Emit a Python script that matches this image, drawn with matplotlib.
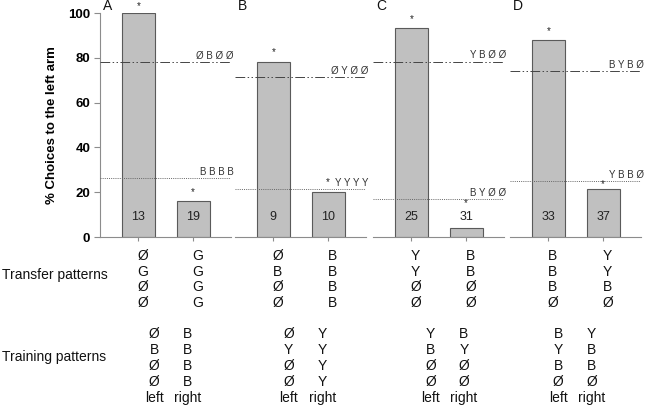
import matplotlib
matplotlib.use("Agg")
import matplotlib.pyplot as plt

plt.rcParams['font.family'] = ['Liberation Sans', 'DejaVu Sans']

# values
panels = ['A', 'B', 'C', 'D']
left_pct = [100, 78, 93.5, 88]
right_pct = [16, 20, 4, 21.5]
left_n = [13, 9, 25, 33]
right_n = [19, 10, 31, 37]
left_star_y = [103, 82.5, 97.5, 92]
right_star_y = [20, 24.5, 15, 23.5]
dashdot_level = [78, 71.3, 78.3, 74]
dotted_level = [26.3, 21.3, 16.8, 25]
transfer_left = ['ØGØØ', 'ØBØØ', 'YYØØ', 'BBBØ']
transfer_right = ['GGGG', 'BBBB', 'BBØØ', 'YYBØ']
training_left = ['ØBØØ', 'ØYØØ', 'YBØØ', 'BYBØ']
training_right = ['BBBB', 'YYYY', 'BYØØ', 'YBBØ']

W, H = 645, 407
ax_left_px = [100, 235, 373, 510]
ax_w_px = 131
ax_top_px, ax_bot_px = 13, 237
train_off = [0.29, 0.28, 0.35, 0.18]

bar_fill = '#c0c0c0'
bar_edge = '#5a5a5a'
spine_col = '#8c8c8c'
txt = '#111111'

fig = plt.figure(figsize=(W / 100, H / 100), dpi=100)

for i, name in enumerate(panels):
    ax = fig.add_axes([ax_left_px[i] / W, 1 - ax_bot_px / H,
                       ax_w_px / W, (ax_bot_px - ax_top_px) / H])
    ax.bar([0, 1], [left_pct[i], right_pct[i]], width=0.6,
           color=bar_fill, edgecolor=bar_edge, linewidth=0.8, zorder=2)
    ax.set_xlim(-0.7, 1.69)
    ax.set_ylim(0, 100)

    # reference lines for the training patterns
    ax.axhline(dashdot_level[i], color='#444444', lw=0.7,
               ls=(0, (10, 2.5, 1.5, 2.5, 1.5, 2.5)), zorder=3)
    ax.axhline(dotted_level[i], color='#666666', lw=0.7,
               ls=(0, (1, 1.2)), zorder=3)
    ax.text(1.02, dashdot_level[i] + 0.6, ' '.join(training_left[i]),
            transform=ax.get_yaxis_transform(), ha='right', va='bottom',
            fontsize=7, color='#333333', clip_on=False)
    ax.text(1.02, dotted_level[i] + 0.6, ' '.join(training_right[i]),
            transform=ax.get_yaxis_transform(), ha='right', va='bottom',
            fontsize=7, color='#333333', clip_on=False)

    # counts and significance stars
    for x, n in zip([0, 1], [left_n[i], right_n[i]]):
        ax.text(x, 9, str(n), ha='center', va='center', fontsize=9,
                color='#222222', zorder=4)
    for x, sy in zip([0, 1], [left_star_y[i], right_star_y[i]]):
        ax.text(x, sy, '*', ha='center', va='center', fontsize=7,
                color='#222222', clip_on=False)

    ax.text(0.06, 1.0, name, transform=ax.transAxes, ha='center',
            va='bottom', fontsize=10, color=txt)

    for s in ['top', 'right']:
        ax.spines[s].set_visible(False)
    ax.spines['bottom'].set_color(spine_col)
    ax.set_xticks([0, 1])
    ax.set_xticklabels(['', ''])
    ax.tick_params(axis='x', length=3, color=spine_col)
    if i == 0:
        ax.spines['left'].set_color(spine_col)
        ax.set_yticks(range(0, 101, 20))
        ax.tick_params(axis='y', length=4, color=spine_col, pad=3,
                       labelsize=9.5)
        for lab in ax.get_yticklabels():
            lab.set_fontweight('bold')
        ax.set_ylabel('% Choices to the left arm', fontsize=9.5,
                      fontweight='bold', labelpad=7)
    else:
        ax.spines['left'].set_visible(False)
        ax.set_yticks([])

    # transfer patterns (under each bar)
    for r in range(4):
        y = -8.6 - 6.9 * r
        ax.text(0.08, y, transfer_left[i][r], ha='center', va='center',
                fontsize=10, color=txt, clip_on=False)
        ax.text(1.08, y, transfer_right[i][r], ha='center', va='center',
                fontsize=10, color=txt, clip_on=False)

    # training patterns
    xl = train_off[i]
    xr = train_off[i] + 0.61
    for r in range(4):
        y = -43.3 - 7.1 * r
        ax.text(xl, y, training_left[i][r], ha='center', va='center',
                fontsize=10, color=txt, clip_on=False)
        ax.text(xr, y, training_right[i][r], ha='center', va='center',
                fontsize=10, color=txt, clip_on=False)
    ax.text(xl, -43.3 - 7.1 * 4, 'left', ha='center', va='center',
            fontsize=10, color=txt, clip_on=False)
    ax.text(xr, -43.3 - 7.1 * 4, 'right', ha='center', va='center',
            fontsize=10, color=txt, clip_on=False)

fig.text(2 / W, 1 - 275 / H, 'Transfer patterns', ha='left', va='center',
         fontsize=10, color=txt)
fig.text(2 / W, 1 - 357 / H, 'Training patterns', ha='left', va='center',
         fontsize=10, color=txt)

fig.savefig('out.png', dpi=100)
